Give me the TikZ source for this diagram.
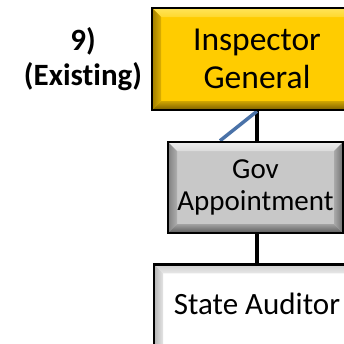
\documentclass[tikz,border=0pt]{standalone}
\usepackage{fontspec}
\setmainfont[Ligatures=NoCommon]{Carlito}
\usetikzlibrary{backgrounds}
\definecolor{goldfill}{HTML}{FFCC00}
\definecolor{goldtop}{HTML}{FFE45A}
\definecolor{goldleft}{HTML}{9E7C00}
\definecolor{goldbot}{HTML}{7A5E00}
\definecolor{goldright}{HTML}{B89200}
\definecolor{grayfill}{HTML}{C8C8C8}
\definecolor{graytop}{HTML}{EDEDED}
\definecolor{grayleft}{HTML}{808080}
\definecolor{graybot}{HTML}{5A5A5A}
\definecolor{grayright}{HTML}{707070}
\definecolor{wtop}{HTML}{CFCFCF}
\definecolor{wleft}{HTML}{B4B4B4}
\definecolor{wbot}{HTML}{909090}
\definecolor{wright}{HTML}{A0A0A0}
\definecolor{linkblue}{HTML}{4A72A8}
\tikzset{
  box/.style={draw=black, line width=2.5pt, rectangle, inner sep=0pt, align=center},
  bevel/.style n args={5}{fill=#1, path picture={
    \path (path picture bounding box.north west) coordinate (nw)
          (path picture bounding box.south east) coordinate (se)
          (nw -| se) coordinate (ne) (nw |- se) coordinate (sw);
    \shade[top color=#2, bottom color=#2!50!#1] (nw) -- (ne) -- ([shift={(-9pt,-9pt)}]ne) -- ([shift={(9pt,-9pt)}]nw) -- cycle;
    \shade[left color=#3, right color=#3!35!#1] (nw) -- ([shift={(9pt,-9pt)}]nw) -- ([shift={(9pt,9pt)}]sw) -- (sw) -- cycle;
    \shade[bottom color=#4, top color=#4!35!#1] (sw) -- ([shift={(9pt,9pt)}]sw) -- ([shift={(-9pt,9pt)}]se) -- (se) -- cycle;
    \shade[right color=#5, left color=#5!35!#1] (se) -- ([shift={(-9pt,9pt)}]se) -- ([shift={(-9pt,-9pt)}]ne) -- (ne) -- cycle;
  }},
  conn/.style={line width=3.5pt, black},
  diag/.style={line width=3.5pt, linkblue},
}
\begin{document}
\begin{tikzpicture}[x=1pt,y=1pt]
\useasboundingbox (0,0) rectangle (344,-343);
\clip (0,0) rectangle (344,-343);

\node[box, bevel={goldfill}{goldtop}{goldleft}{goldbot}{goldright},
      minimum width=210pt, minimum height=102pt,
      font=\fontsize{33.5}{38}\selectfont] (insp) at (257,-59) {Inspector\\General};
\node[box, bevel={grayfill}{graytop}{grayleft}{graybot}{grayright},
      minimum width=175pt, minimum height=91pt,
      font=\fontsize{29}{32}\selectfont] (gov) at (255.5,-187.5) {Gov\\Appointment};
\node[box, bevel={white}{wtop}{wleft}{wbot}{wright},
      minimum width=206pt, anchor=north, inner ysep=27pt,
      text height=23pt, text depth=50pt,
      font=\fontsize{31}{37}\selectfont] (aud) at (257,-263) {State Auditor};

\node[anchor=base, align=center, font=\fontsize{31}{35}\selectfont\bfseries] (lbl) at (83,-85) {9)\\(Existing)};

\begin{scope}[on background layer]
\fill[white] (0,0) rectangle (344,-343);
\draw[conn] (insp.south) -- (insp.south |- gov.north);
\draw[conn] (insp.south |- gov.south) -- (insp.south |- aud.north);
\draw[diag] (insp.south) -- ([xshift=-35.5pt]gov.north);
\end{scope}
\end{tikzpicture}
\end{document}
